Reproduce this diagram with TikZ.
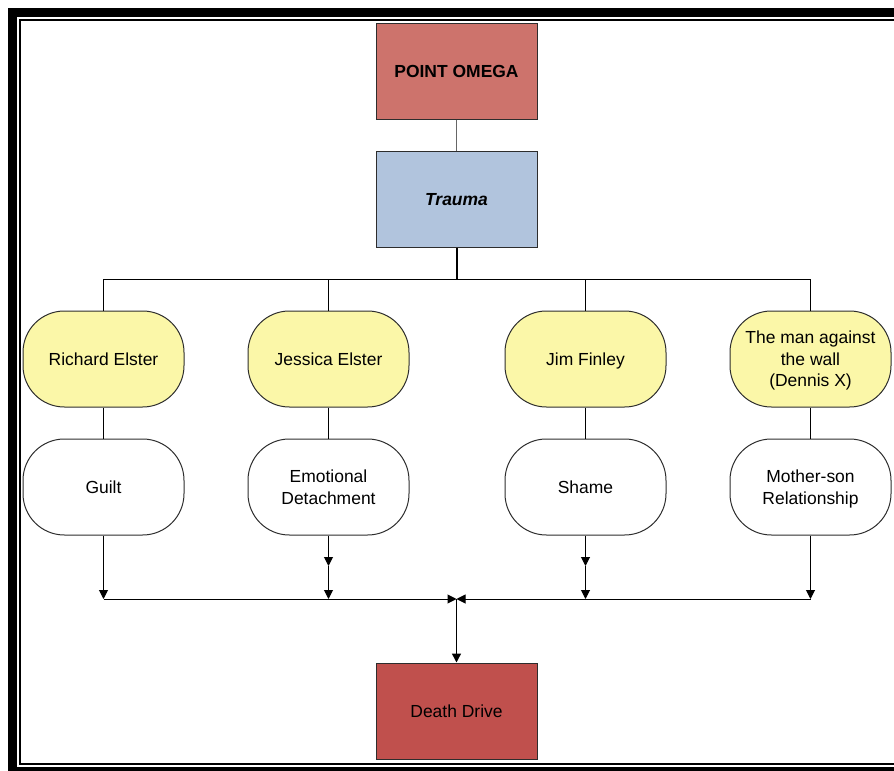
\documentclass[tikz,border=0pt]{standalone}
\usepackage{fontspec}
\setmainfont{Liberation Sans}
\usetikzlibrary{arrows.meta}
\definecolor{omega}{RGB}{205,115,108}
\definecolor{trauma}{RGB}{177,196,221}
\definecolor{ylw}{RGB}{251,247,168}
\definecolor{death}{RGB}{192,80,77}
\definecolor{edge}{RGB}{45,45,45}
\newcommand\cstrut{\rule[-3pt]{0pt}{15.4pt}}
\tikzset{
  base/.style={draw=edge, line width=0.75pt, minimum width=120.75pt, minimum height=72pt, inner sep=0pt, align=center, font=\fontsize{13.1}{16.1}\selectfont},
  sqbox/.style={base},
  roundbox/.style={base, rounded corners=31pt},
  conn/.style={draw=black, line width=0.75pt},
  arr/.style={conn, -{Triangle[width=6.75pt, length=6.75pt]}}
}
\begin{document}
\begin{tikzpicture}[x=0.75pt, y=-0.75pt]
\useasboundingbox (0,0) rectangle (894,771);
\begin{scope}
\clip (0,0) rectangle (894,771);
\draw[line width=6.75pt, black] (12.5,12.5) rectangle (910,771.5);
\draw[line width=1.5pt, black] (20,20) rectangle (905,764);
\end{scope}

\node[sqbox, fill=omega] (po) at (456.5,71) {\cstrut\textbf{POINT OMEGA}};
\node[sqbox, fill=trauma] (tr) at (456.5,199.5) {\cstrut\textbf{\textit{Trauma}}};

\node[roundbox, fill=ylw] (y1) at (103.5,359) {\cstrut Richard Elster};
\node[roundbox, fill=ylw] (y2) at (328.5,359) {\cstrut Jessica Elster};
\node[roundbox, fill=ylw] (y3) at (585.5,359) {\cstrut Jim Finley};
\node[roundbox, fill=ylw] (y4) at (810.5,359) {\cstrut The man against\\the wall\\(Dennis X)\cstrut};

\node[roundbox, fill=white] (w1) at (103.5,487) {\cstrut Guilt};
\node[roundbox, fill=white] (w2) at (328.5,487) {\cstrut Emotional\\Detachment\cstrut};
\node[roundbox, fill=white] (w3) at (585.5,487) {\cstrut Shame};
\node[roundbox, fill=white] (w4) at (810.5,487) {\cstrut Mother-son\\Relationship\cstrut};

\node[sqbox, fill=death] (dd) at (456.5,711) {\cstrut Death Drive};

% top connectors
\draw[conn, draw=black!60] (po) -- (tr);
\coordinate (tb) at (456.5,279);
\coordinate (t1) at (103.5,279);
\coordinate (t2) at (328.5,279);
\coordinate (t3) at (585.5,279);
\coordinate (t4) at (810.5,279);
\draw[conn, line width=1.5pt] (tr) -- (tb);
\draw[conn] (t1) -- (t4);
\draw[conn] (t1) -- (y1);
\draw[conn] (t2) -- (y2);
\draw[conn] (t3) -- (y3);
\draw[conn] (t4) -- (y4);

\draw[conn] (y1) -- (w1);
\draw[conn] (y2) -- (w2);
\draw[conn] (y3) -- (w3);
\draw[conn] (y4) -- (w4);

% bottom connectors
\coordinate (b1) at (103.5,599);
\coordinate (b2) at (328.5,599);
\coordinate (b3) at (585.5,599);
\coordinate (b4) at (810.5,599);
\coordinate (bc) at (456.5,599);
\coordinate (m2) at (328.5,566);
\coordinate (m3) at (585.5,566);

\draw[arr] (w1) -- (b1);
\draw[arr] (w2) -- (m2);
\draw[arr] (m2) -- (b2);
\draw[arr] (w3) -- (m3);
\draw[arr] (m3) -- (b3);
\draw[arr] (w4) -- (b4);
\draw[arr] (b1) -- (bc);
\draw[arr] (b4) -- (bc);
\draw[arr, line width=1.1pt] (bc) -- (dd);
\end{tikzpicture}
\end{document}
